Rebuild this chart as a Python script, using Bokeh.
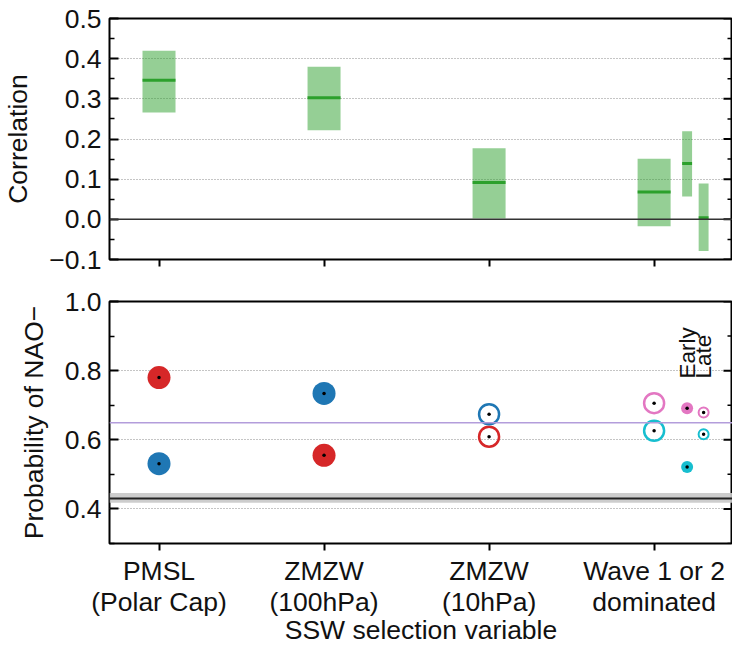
import math
from bokeh.plotting import figure
from bokeh.layouts import column
from bokeh.models import (FixedTicker, Span, BoxAnnotation,
                          CustomJSTickFormatter, Range1d)
from bokeh.core.properties import value
from bokeh.embed import file_html
from bokeh.resources import INLINE

# ---------------- data ----------------
categories = ["PMSL\n(Polar Cap)", "ZMZW\n(100hPa)", "ZMZW\n(10hPa)", "Wave 1 or 2\ndominated"]
cat_pos = [0, 1, 2, 3]

corr_median = [0.346, 0.303, 0.092, 0.068]
corr_low = [0.266, 0.222, 0.002, -0.017]
corr_high = [0.420, 0.380, 0.177, 0.151]

sub_labels = ["Early", "Late"]
sub_offset = [0.2, 0.3]
sub_corr_median = [0.139, 0.004]
sub_corr_low = [0.057, -0.079]
sub_corr_high = [0.219, 0.089]

prob_red = [0.780, 0.555, 0.609]     # PMSL, ZMZW100 (filled), ZMZW10 (open)
prob_blue = [0.531, 0.734, 0.674]
prob_wave_pink = [0.706]
prob_wave_cyan = [0.626]
prob_sub_pink = [0.691, 0.679]       # Early (filled), Late (open)
prob_sub_cyan = [0.521, 0.616]
prob_reference = 0.649
prob_baseline = 0.430
prob_baseline_band = [0.418, 0.446]

corr_ticks = [-0.1, 0.0, 0.1, 0.2, 0.3, 0.4, 0.5]
corr_minor = [-0.05, 0.05, 0.15, 0.25, 0.35, 0.45]
corr_grid = [0.1, 0.2, 0.3, 0.4]
prob_ticks = [0.4, 0.6, 0.8, 1.0]
prob_minor = [0.3, 0.5, 0.7, 0.9]
prob_grid = [0.4, 0.6, 0.8]

# ---------------- style ----------------
FONT = "Liberation Sans"
FS = "26.5px"
TXT = "#111111"
GREEN = "#2ca02c"
RED = "#d62728"
BLUE = "#1f77b4"
PINK = "#e377c2"
CYAN = "#17becf"
PURPLE = "#b39ddb"

X_RANGE = (-0.3, 3.475)

fmt = CustomJSTickFormatter(code="return tick.toFixed(1).replace('-', '\u2212');")
blank = CustomJSTickFormatter(code="return '';")


def style_y(ax, ticks, minor):
    ax.ticker = FixedTicker(ticks=ticks, minor_ticks=minor)
    ax.formatter = fmt
    ax.axis_line_color = None
    ax.major_tick_in = 9
    ax.major_tick_out = 0
    ax.minor_tick_in = 5
    ax.minor_tick_out = 0
    ax.major_tick_line_width = 2
    ax.minor_tick_line_width = 1.5
    ax.major_tick_line_color = "black"
    ax.minor_tick_line_color = "black"
    ax.major_label_text_font = FONT
    ax.major_label_text_font_size = FS
    ax.major_label_text_color = TXT
    ax.major_label_standoff = 8
    ax.axis_label_text_font = FONT
    ax.axis_label_text_font_size = FS
    ax.axis_label_text_font_style = "normal"
    ax.axis_label_text_color = TXT
    ax.axis_label_standoff = 13


def style_x(ax, labels):
    ax.ticker = FixedTicker(ticks=cat_pos)
    ax.axis_line_color = None
    ax.major_tick_in = 0
    ax.major_tick_out = 7
    ax.major_tick_line_width = 2
    ax.major_tick_line_color = "black"
    if labels:
        ax.major_label_overrides = {p: c for p, c in zip(cat_pos, categories)}
        ax.major_label_text_font = FONT
        ax.major_label_text_font_size = FS
        ax.major_label_text_color = TXT
        ax.major_label_text_line_height = 1.05
        ax.major_label_standoff = 5
        ax.axis_label_text_font = FONT
        ax.axis_label_text_font_size = FS
        ax.axis_label_text_font_style = "normal"
        ax.axis_label_text_color = TXT
        ax.axis_label_standoff = -5
    else:
        ax.formatter = blank
        ax.major_label_standoff = 0


def right_ticks(p, ticks, minor):
    # inward tick stubs on the right-hand edge (half of each dash is clipped by the frame)
    p.scatter(x=[X_RANGE[1]] * len(ticks), y=ticks, marker="dash", size=18,
              line_color="black", line_width=2)
    p.scatter(x=[X_RANGE[1]] * len(minor), y=minor, marker="dash", size=10,
              line_color="black", line_width=1.5)


def style_grid(p, grid):
    p.xgrid.visible = False
    p.ygrid.ticker = FixedTicker(ticks=grid)
    p.ygrid.grid_line_color = "#8a8a8a"
    p.ygrid.grid_line_dash = "1 2"
    p.ygrid.grid_line_width = 1
    p.outline_line_color = "black"
    p.outline_line_width = 2


# ---------------- top panel: correlation ----------------
p1 = figure(width=732, height=280, x_range=Range1d(*X_RANGE), y_range=Range1d(-0.1, 0.5),
            output_backend="svg", toolbar_location=None,
            min_border_left=109, min_border_right=0, min_border_top=18, min_border_bottom=21)
style_grid(p1, corr_grid)
p1.yaxis.axis_label = "Correlation"
style_y(p1.yaxis[0], corr_ticks, corr_minor)
style_x(p1.xaxis[0], False)

half_main = 0.1
p1.quad(left=[c - half_main for c in cat_pos], right=[c + half_main for c in cat_pos],
        bottom=corr_low, top=corr_high, fill_color=GREEN, fill_alpha=0.5, line_color=None)
p1.segment(x0=[c - half_main for c in cat_pos], x1=[c + half_main for c in cat_pos],
           y0=corr_median, y1=corr_median, line_color=GREEN, line_width=3)

half_sub = 0.03
sub_x = [cat_pos[3] + o for o in sub_offset]
p1.quad(left=[x - half_sub for x in sub_x], right=[x + half_sub for x in sub_x],
        bottom=sub_corr_low, top=sub_corr_high, fill_color=GREEN, fill_alpha=0.5, line_color=None)
p1.segment(x0=[x - half_sub for x in sub_x], x1=[x + half_sub for x in sub_x],
           y0=sub_corr_median, y1=sub_corr_median, line_color=GREEN, line_width=3)
p1.add_layout(Span(location=0.0, dimension="width", line_color="#333333", line_width=1.5))
right_ticks(p1, corr_ticks, corr_minor)

# ---------------- bottom panel: probability ----------------
p2 = figure(width=732, height=369, x_range=p1.x_range, y_range=Range1d(0.3, 1.0),
            output_backend="svg", toolbar_location=None,
            min_border_left=109, min_border_right=0, min_border_top=21, min_border_bottom=106)
style_grid(p2, prob_grid)
p2.yaxis.axis_label = "Probability of NAO\u2212"
p2.xaxis.axis_label = "SSW selection variable"
style_y(p2.yaxis[0], prob_ticks, prob_minor)
style_x(p2.xaxis[0], True)

p2.add_layout(BoxAnnotation(bottom=prob_baseline_band[0], top=prob_baseline_band[1],
                            fill_color="#c8c8c8", fill_alpha=0.9, line_color=None, level="underlay"))
p2.add_layout(Span(location=prob_baseline, dimension="width", line_color="#222222", line_width=2))
p2.add_layout(Span(location=prob_reference, dimension="width", line_color=PURPLE, line_width=1.5))

# filled large markers: PMSL & ZMZW(100hPa)
p2.scatter(x=cat_pos[:2], y=prob_red[:2], size=23, fill_color=RED, line_color=None)
p2.scatter(x=cat_pos[:2], y=prob_blue[:2], size=23, fill_color=BLUE, line_color=None)
# open large markers: ZMZW(10hPa) & Wave
p2.scatter(x=[cat_pos[2]], y=[prob_red[2]], size=20, fill_color=None, line_color=RED, line_width=2.5)
p2.scatter(x=[cat_pos[2]], y=[prob_blue[2]], size=20, fill_color=None, line_color=BLUE, line_width=2.5)
p2.scatter(x=[cat_pos[3]], y=prob_wave_pink, size=20, fill_color=None, line_color=PINK, line_width=2.5)
p2.scatter(x=[cat_pos[3]], y=prob_wave_cyan, size=20, fill_color=None, line_color=CYAN, line_width=2.5)
# early (filled small) / late (open small)
p2.scatter(x=[sub_x[0]], y=[prob_sub_pink[0]], size=12, fill_color=PINK, line_color=None)
p2.scatter(x=[sub_x[0]], y=[prob_sub_cyan[0]], size=12, fill_color=CYAN, line_color=None)
p2.scatter(x=[sub_x[1]], y=[prob_sub_pink[1]], size=10, fill_color=None, line_color=PINK, line_width=2)
p2.scatter(x=[sub_x[1]], y=[prob_sub_cyan[1]], size=10, fill_color=None, line_color=CYAN, line_width=2)

# black centre dots
all_x = cat_pos[:3] + cat_pos[:3] + [cat_pos[3], cat_pos[3]] + sub_x + sub_x
all_y = prob_red + prob_blue + prob_wave_pink + prob_wave_cyan + prob_sub_pink + prob_sub_cyan
p2.scatter(x=all_x, y=all_y, size=3.5, fill_color="black", line_color=None)

# Early / Late labels
p2.text(x=sub_x, y=[0.777, 0.777], text=sub_labels, angle=math.pi / 2,
        text_align="left", text_baseline="middle", text_font=value(FONT),
        text_font_size="22.5px", text_color=TXT)
right_ticks(p2, prob_ticks, prob_minor)

layout = column(p1, p2, spacing=0)
open("out.html", "w").write(file_html(layout, INLINE))
